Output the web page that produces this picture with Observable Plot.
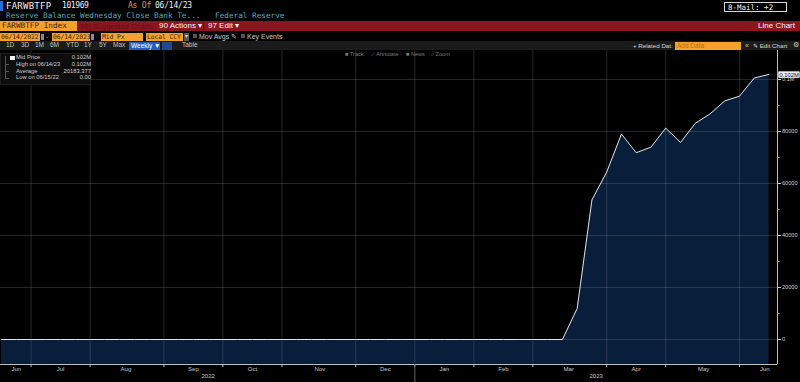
<!DOCTYPE html>
<html><head><meta charset="utf-8">
<script src="https://cdn.jsdelivr.net/npm/d3@7"></script>
<script src="https://cdn.jsdelivr.net/npm/@observablehq/plot@0.6"></script>
<style>
html,body{margin:0;padding:0;background:#000;width:800px;height:382px;overflow:hidden;}
#wrap{position:relative;width:800px;height:382px;background:#000;font-family:"Liberation Sans",Arial,sans-serif;overflow:hidden;}
.a{position:absolute;white-space:nowrap;line-height:1;box-sizing:border-box;}
.clip{overflow:hidden;}
.mono{font-family:"DejaVu Sans Mono",monospace;}
svg{position:absolute;left:0;top:50px;}
</style></head><body><div id="wrap"></div>
<script>
// ---------- data ----------
const startDate = "2022-06-15";            // first weekly observation (Wednesday)
const values = [
  0,0,0,0,0,0,0,0,0,0,
  0,0,0,0,0,0,0,0,0,0,
  0,0,0,0,0,0,0,0,0,0,
  0,0,0,0,0,0,0,0,0,
  11943, 53669, 64403, 79020, 71837, 73982, 81305,
  75770, 83131, 86761, 91770, 93591, 100568, 101969
];
const gridDates = ["2022-06-29","2022-07-27","2022-08-31","2022-09-28","2022-10-26","2022-11-30",
  "2022-12-28","2023-01-25","2023-02-22","2023-03-29","2023-04-26","2023-05-31"];
const monthNames = ["Jun","Jul","Aug","Sep","Oct","Nov","Dec","Jan","Feb","Mar","Apr","May","Jun"];
const monthLabelDates = ["2022-06-22","2022-07-13","2022-08-13","2022-09-14","2022-10-12","2022-11-13",
  "2022-12-14","2023-01-11","2023-02-08","2023-03-11","2023-04-12","2023-05-14","2023-06-12"];
const yearNames = ["2022","2023"];
const yearLabelDates = ["2022-09-21","2023-03-24"];
const yearSeparator = ["2022-12-28"];
const yTicks = [0, 20000, 40000, 60000, 80000, 100000];
const yTickLabels = ["0","20000","40000","60000","80000","0.1M"];
const yMinorTicks = [10000, 30000, 50000, 70000, 90000];
const lastLabel = "0.102M";
const legendLabels = ["Mid Price","High on 06/14/23","Average","Low on 06/15/22"];
const legendValues = ["0.102M","0.102M","20183.377","0.00"];

// ---------- build tables ----------
const start = new Date(startDate);
const data = values.map((v, i) => ({date: d3.utcDay.offset(start, 7 * i), value: v}));
const grid = gridDates.map(d => new Date(d));
const months = monthLabelDates.map((d, i) => ({date: new Date(d), label: monthNames[i]}));
const years = yearLabelDates.map((d, i) => ({date: new Date(d), label: yearNames[i]}));
const yMin = -9615, yMax = 111154;
const xDom = [new Date(Date.UTC(2022, 5, 14, 12)), new Date(Date.UTC(2023, 5, 18, 0))];

// ---------- header ----------
const W = document.getElementById("wrap");
function el(css, text, cls) {
  const d = document.createElement("div");
  d.className = "a " + (cls || "");
  d.style.cssText = css;
  if (text != null) d.textContent = text;
  W.appendChild(d);
  return d;
}
const ORANGE = "#f2a12c";
// row 1
el("left:0;top:1px;width:3px;height:10px;background:#1f6fe0;");
el("left:6px;top:1.5px;color:#f2f2f2;font-size:9px;letter-spacing:0.25px;", "FARWBTFP", "mono");
el("left:62px;top:2px;color:#f2f2f2;font-size:8px;letter-spacing:-0.4px;", "101969", "mono");
el("left:128px;top:2px;color:#e09a3a;font-size:8px;letter-spacing:-0.2px;", "As Of", "mono");
el("left:155px;top:2px;color:#f2f2f2;font-size:8px;letter-spacing:-0.2px;", "06/14/23", "mono");
el("left:724px;top:2px;width:63px;height:10px;border:1px solid #d8d8d8;color:#f0f0f0;font-size:7.5px;padding:0.5px 0 0 3px;", "8-Mail: +2", "mono");
// row 2
el("left:6px;top:11.5px;color:#4fa9b8;font-size:7.7px;", "Reserve Balance Wednesday Close Bank Te...", "mono");
el("left:215px;top:11.5px;color:#4fa9b8;font-size:7.7px;", "Federal Reserve", "mono");
// row 3 red bar
el("left:0;top:21px;width:800px;height:10px;background:#8c1620;");
el("left:0;top:21px;width:77px;height:10px;background:" + ORANGE + ";color:#4a1a08;font-size:7.7px;padding:1.3px 0 0 2px;", "FARWBTFP Index", "mono clip");
el("left:80px;top:22.5px;color:#6a0e18;font-size:7.5px;", "96) Suggested Charts");
el("left:159px;top:22.3px;color:#f4f4f4;font-size:8px;", "90 Actions \u25BE");
el("left:203px;top:21px;width:1px;height:10px;background:#6a0e18;");
el("left:208px;top:22.3px;color:#f4f4f4;font-size:8px;", "97 Edit \u25BE");
el("right:5px;top:22.3px;color:#f4f4f4;font-size:8px;", "Line Chart");
// row 4
const box4 = "top:32.5px;height:8px;background:" + ORANGE + ";color:#4a2206;font-size:6.4px;padding:1px 0 0 1px;letter-spacing:-0.1px;";
el("left:0;width:40px;" + box4, "06/14/2022", "mono clip");
el("left:40.5px;top:33.5px;width:3.5px;height:6px;background:#8a8a8a;");
el("left:46px;top:33px;color:#aaa;font-size:7px;", "-");
el("left:52px;width:38px;" + box4, "06/14/2023", "mono clip");
el("left:90.5px;top:33.5px;width:3.5px;height:6px;background:#8a8a8a;");
el("left:101px;width:42px;" + box4, "Mid Px", "mono clip");
el("left:146px;width:37px;" + box4, "Local CCY", "mono clip");
el("left:184px;top:32.5px;width:5px;height:8px;background:#555;color:#ddd;font-size:5.5px;padding:1.5px 0 0 0.5px;", "\u25BE", "clip");
el("left:193px;top:34px;width:4px;height:4px;background:#555;");
el("left:199px;top:33.2px;color:#c8c8c8;font-size:7px;", "Mov Avgs \u270E");
el("left:241px;top:34px;width:4px;height:4px;background:#555;");
el("left:247px;top:33.2px;color:#c8c8c8;font-size:7px;", "Key Events");
// row 5
el("left:0;top:41px;width:800px;height:9px;background:#1b1b1b;");
const r5 = [["1D",6],["3D",21],["1M",35],["6M",50],["YTD",66],["1Y",84],["5Y",99],["Max",113]];
r5.forEach(([t, x]) => el("left:" + x + "px;top:42.3px;color:#c4c4c4;font-size:6.5px;", t));
el("left:129px;top:41.5px;width:31px;height:8px;background:#1f5fc2;color:#fff;font-size:6.5px;padding:1px 0 0 2px;", "Weekly \u25BC", "clip");
el("left:162px;top:41.5px;width:10px;height:8px;background:#1c4c8c;");
el("left:182px;top:42.3px;color:#c4c4c4;font-size:6.5px;", "Table");
el("left:633px;top:42.5px;color:#d8d8d8;font-size:6.2px;", "+ Related Dat:");
el("left:675px;top:41.5px;width:66px;height:8px;background:" + ORANGE + ";color:#c46a10;font-size:6.5px;padding:1px 0 0 2px;", "Add Data", "clip");
el("left:745px;top:42px;color:#c8c8c8;font-size:7px;", "\u00AB");
el("left:753px;top:42.5px;color:#d8d8d8;font-size:6.2px;", "\u270E Edit Chart");
el("left:793px;top:42px;color:#c8c8c8;font-size:6.5px;", "\u2699");

// ---------- chart ----------
const chart = Plot.plot({
  width: 800, height: 332,
  marginLeft: 0, marginRight: 23, marginTop: 0, marginBottom: 18,
  style: {background: "transparent", color: "#c0c0c0", fontFamily: "Liberation Sans, Arial, sans-serif", fontSize: "5.6px", overflow: "visible"},
  x: {type: "utc", domain: xDom, axis: null},
  y: {domain: [yMin, yMax], axis: null},
  marks: [
    Plot.areaY(data, {x: "date", y1: yMin, y2: "value", fill: "#081e3a"}),
    Plot.ruleY(yTicks, {stroke: "#8a8a8a", strokeOpacity: 0.35, strokeWidth: 0.8}),
    Plot.ruleX(grid, {stroke: "#8a8a8a", strokeOpacity: 0.35, strokeWidth: 0.8}),
    Plot.lineY(data, {x: "date", y: "value", stroke: "#dfe3e8", strokeWidth: 1}),
    Plot.ruleY([yMin], {stroke: "#bdbdbd", strokeWidth: 1}),
    Plot.ruleX([xDom[1]], {stroke: "#bdbdbd", strokeWidth: 1}),
    Plot.axisY(yTicks, {anchor: "right", label: null, tickSize: 3, tickPadding: 1.5, stroke: "#cfcfcf", fill: "#d0d0d0",
      tickFormat: d => yTickLabels[yTicks.indexOf(d)]}),
    Plot.axisY(yMinorTicks, {anchor: "right", label: null, tickSize: 1.5, stroke: "#9a9a9a", tickFormat: () => ""}),
    Plot.axisX(grid, {anchor: "bottom", label: null, tickSize: 3, stroke: "#bdbdbd", tickFormat: () => ""}),
    Plot.axisX(yearSeparator.map(d => new Date(d)), {anchor: "bottom", label: null, tickSize: 18, stroke: "#666", tickFormat: () => ""}),
    Plot.text(months, {x: "date", text: "label", frameAnchor: "bottom", dy: 4.5, lineAnchor: "middle", fill: "#c8c8c8", fontSize: 6}),
    Plot.text(years, {x: "date", text: "label", frameAnchor: "bottom", dy: 12, lineAnchor: "middle", fill: "#c8c8c8", fontSize: 6}),
    (index, scales, channels, dims) => {
      const last = data[data.length - 1];
      const g = d3.create("svg:g");
      const y = scales.y(last.value);
      const x = dims.width - dims.marginRight;
      g.append("rect").attr("x", x + 1.2).attr("y", y - 2.6).attr("width", 21.6).attr("height", 6.6)
        .attr("rx", 1.2).attr("fill", "#ececec").attr("stroke", "#777").attr("stroke-width", 0.3);
      g.append("text").attr("x", x + 2.4).attr("y", y + 0.7).attr("dy", "0.35em")
        .attr("text-anchor", "start")
        .attr("font-size", 5.8).attr("fill", "#111").attr("stroke", "none").text(lastLabel);
      return g.node();
    }
  ]
});
W.appendChild(chart);

// ---------- overlays ----------
el("left:0;top:53px;width:91px;height:32px;background:#0d0d0d;border:1px solid #1f1f1f;");
el("left:5px;top:56px;width:1px;height:23px;background:#555;");
el("left:10px;top:55.5px;width:4.5px;height:4.5px;background:#f4f4f4;");
legendLabels.forEach((t, i) => {
  const y = 55.3 + i * 6.6;
  if (i > 0) el("left:5px;top:" + (y + 2.5) + "px;width:4px;height:1px;background:#555;");
  el("left:16px;top:" + y + "px;color:#cfcfcf;font-size:5.8px;", t);
  el("right:" + (800 - 91) + "px;top:" + y + "px;color:#cfcfcf;font-size:5.8px;", legendValues[i]);
});
const tools = [["\u25A0 Track",345],["\u27CB Annotate",371],["\u25A0 News",406],["\u2315 Zoom",431]];
tools.forEach(([t, x]) => el("left:" + x + "px;top:52px;color:#7a7a7a;font-size:5.6px;", t));
</script>
</body></html>
